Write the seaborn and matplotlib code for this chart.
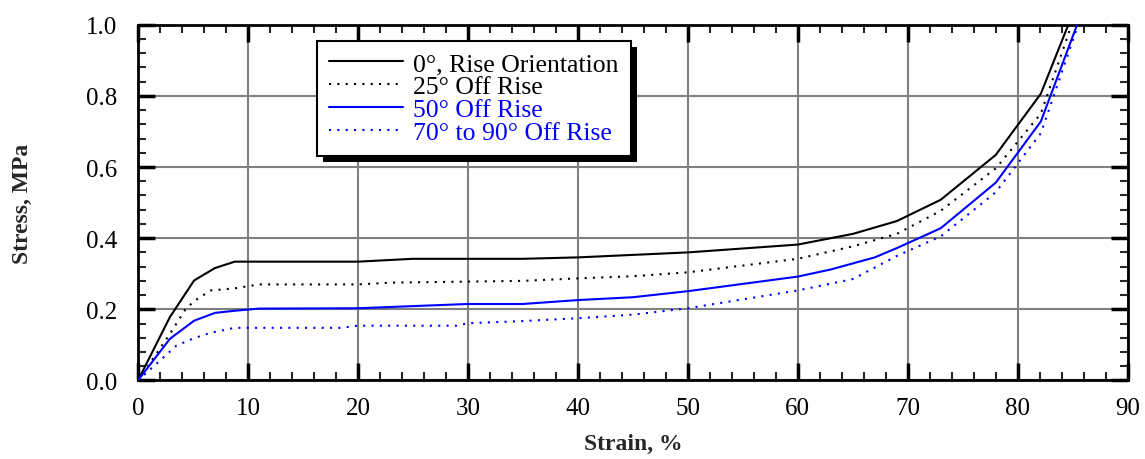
import matplotlib
matplotlib.use("Agg")
import matplotlib.pyplot as plt
from matplotlib.patches import Rectangle
from matplotlib.transforms import IdentityTransform
from matplotlib.ticker import MultipleLocator
import seaborn as sns

# ---- data ----
labels = ["0°, Rise Orientation", "25° Off Rise", "50° Off Rise", "70° to 90° Off Rise"]

strain_0 = [0, 2.9, 5.1, 7.0, 8.8, 20, 25, 35, 40, 50, 60, 65, 69, 73, 78, 82.1, 84.6]
stress_0 = [0, 0.178, 0.281, 0.316, 0.334, 0.334, 0.342, 0.342, 0.346, 0.36, 0.382, 0.412, 0.448, 0.508, 0.634, 0.806, 1.0]

strain_25 = [0, 2.8, 4.3, 5.1, 6.6, 8.8, 11, 20, 23, 35, 40, 45, 50, 60, 65, 69, 73, 78, 82.1, 84.9]
stress_25 = [0, 0.126, 0.199, 0.223, 0.253, 0.259, 0.27, 0.27, 0.275, 0.28, 0.287, 0.293, 0.304, 0.342, 0.377, 0.412, 0.477, 0.596, 0.75, 1.0]

strain_50 = [0, 2.9, 5.1, 7.0, 8.8, 11, 20, 30, 35, 40, 45, 50, 60, 63, 67, 69, 73, 78, 82.1, 85.4]
stress_50 = [0, 0.117, 0.168, 0.19, 0.196, 0.202, 0.203, 0.215, 0.215, 0.226, 0.234, 0.251, 0.292, 0.312, 0.346, 0.372, 0.428, 0.556, 0.728, 1.0]

strain_70 = [0, 2.0, 3.5, 5.1, 6.6, 8.8, 18.5, 20, 29, 30, 35, 40, 45, 50, 60, 65, 69, 73, 78, 82.1, 85.5]
stress_70 = [0, 0.056, 0.098, 0.119, 0.134, 0.148, 0.148, 0.154, 0.154, 0.161, 0.167, 0.175, 0.185, 0.203, 0.253, 0.285, 0.35, 0.405, 0.529, 0.695, 1.0]

x_ticks = [0, 10, 20, 30, 40, 50, 60, 70, 80, 90]
y_ticks = [0.0, 0.2, 0.4, 0.6, 0.8, 1.0]

# ---- style ----
sns.set_style("ticks")
plt.rcParams["font.family"] = ["Liberation Serif", "DejaVu Serif"]

fig = plt.figure(figsize=(11.45, 4.6), dpi=100)
ax = fig.add_axes([0.1205, 0.1707, 0.8644, 0.7734])

series = [
    (strain_0, stress_0, "black", "-"),
    (strain_25, stress_25, "black", (0, (1, 3))),
    (strain_50, stress_50, "#0000ff", "-"),
    (strain_70, stress_70, "#0000ff", (0, (1, 3))),
]
for (xs, ys, col, ls), lab in zip(series, labels):
    sns.lineplot(x=xs, y=ys, ax=ax, color=col, linestyle=ls, linewidth=1.5,
                 sort=False, estimator=None, label=lab, zorder=3)

ax.set_xlim(0, 90)
ax.set_ylim(0, 1.0)
ax.set_xticks(x_ticks)
ax.set_yticks(y_ticks)
ax.set_xticklabels([str(t) for t in x_ticks])
ax.set_yticklabels([f"{t:.1f}" for t in y_ticks])
ax.xaxis.set_minor_locator(MultipleLocator(2))
ax.yaxis.set_minor_locator(MultipleLocator(0.04))

ax.grid(True, which="major", color="#808080", linewidth=1.5, zorder=1)
ax.set_axisbelow(True)
for s in ax.spines.values():
    s.set_linewidth(2)
    s.set_color("black")

ax.tick_params(which="major", direction="in", length=12, width=2.5,
               top=True, right=True, labelsize=18, colors="black")
ax.tick_params(which="minor", direction="in", length=6, width=1.5,
               top=True, right=True)
ax.tick_params(axis="x", which="major", pad=12)
ax.tick_params(axis="y", which="major", pad=15)

ax.set_xlabel("Strain, %", fontsize=17, fontweight="bold", labelpad=10)
ax.set_ylabel("Stress, MPa", fontsize=17, fontweight="bold", labelpad=38)

leg = ax.legend(loc="upper left", bbox_to_anchor=(0.181, 0.955), borderaxespad=0,
                fontsize=18.5, frameon=True, fancybox=False, framealpha=1,
                edgecolor="black", handlelength=2.9, handletextpad=0.4,
                labelspacing=0.0, borderpad=0.45)
leg.get_frame().set_linewidth(1.5)
leg.set_zorder(5)
for txt, col in zip(leg.get_texts(), ["black", "black", "#0000ff", "#0000ff"]):
    txt.set_color(col)

fig.canvas.draw()
bb = leg.get_window_extent()
shadow = Rectangle((bb.x0 + 6, bb.y0 - 6), bb.width, bb.height,
                   transform=IdentityTransform(), facecolor="black",
                   edgecolor="none", zorder=4.9, clip_on=False)
ax.add_patch(shadow)

fig.savefig("out.png", dpi=100)
